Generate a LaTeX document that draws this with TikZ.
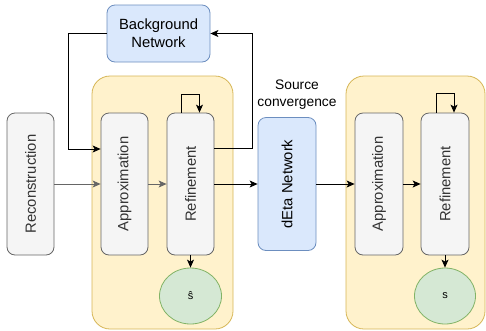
\documentclass[tikz,border=0pt]{standalone}
\usepackage{fontspec}
\setmainfont{Liberation Sans}
\usepackage{xcolor}
\usetikzlibrary{arrows.meta}
\usetikzlibrary{positioning,shapes.geometric}
\definecolor{stagefill}{HTML}{FFF2CC}
\definecolor{stageline}{HTML}{D6B656}
\definecolor{netfill}{HTML}{DAE8FC}
\definecolor{netline}{HTML}{6C8EBF}
\definecolor{stepfill}{HTML}{F5F5F5}
\definecolor{stepline}{HTML}{666666}
\definecolor{steptext}{HTML}{333333}
\definecolor{outfill}{HTML}{D5E8D4}
\definecolor{outline}{HTML}{82B366}
\tikzset{
    stage/.style={
        draw=stageline,
        fill=stagefill,
        rounded corners=18pt,
        line width=0.8pt,
        minimum width=141pt,
        minimum height=253pt
    },
    netbox/.style={
        draw=netline,
        fill=netfill,
        rounded corners=8pt,
        line width=0.8pt,
        align=center,
        font=\fontsize{14.8}{18}\selectfont
    },
    stepbox/.style={
        draw=stepline,
        fill=stepfill,
        text=steptext,
        rounded corners=8pt,
        line width=0.8pt,
        minimum width=47pt,
        minimum height=142pt,
        font=\fontsize{14.8}{18}\selectfont
    },
    outnode/.style={
        draw=outline,
        fill=outfill,
        ellipse,
        line width=0.8pt,
        minimum width=62pt,
        minimum height=56pt,
        font=\fontsize{11}{13}\selectfont
    },
    flow/.style={
        draw,
        -{Stealth[length=8pt, width=7pt, inset=2pt]},
        line width=0.8pt
    }
}

\begin{document}
\begin{tikzpicture}[x=1pt, y=-1pt]
    \useasboundingbox (0,0) rectangle (486,330);

    % Stage containers
    \node[stage] (stage1) at (162.5,202.5) {};
    \node[stage, minimum width=139pt] (stage2) at (415.5,202.5) {};

    % Networks
    \node[netbox, minimum width=103pt, minimum height=57pt] (bgnet) at (158.5,33.5) {Background\\Network};
    \node[netbox, minimum width=58pt, minimum height=133pt] (deta) at (287,184) {\rotatebox{90}{dEta Network}};
    \node[align=center, font=\fontsize{13.8}{17}\selectfont] (srcconv) at (297,94.5) {Source\\convergence};

    % Processing steps
    \node[stepbox] (recon) at (30.5,184) {\rotatebox{90}{Reconstruction}};
    \node[stepbox] (approx1) at (124.5,184) {\rotatebox{90}{Approximation}};
    \node[stepbox] (refine1) at (190.5,184) {\rotatebox{90}{Refinement}};
    \node[stepbox, minimum width=48pt] (approx2) at (379,184) {\rotatebox{90}{Approximation}};
    \node[stepbox, minimum width=48pt] (refine2) at (445,184) {\rotatebox{90}{Refinement}};

    % Outputs
    \node[outnode] (shat) at (190.5,296) {ŝ};
    \node[outnode, minimum width=61pt] (sout) at (445,296) {s};

    % Turning points of the feedback loop
    \coordinate (fbright) at (252,33.5);
    \coordinate (fbleft) at (68,33.5);

    % Main flow
    \draw[flow, stepline] (recon) -- (approx1);
    \draw[flow, stepline] (approx1) -- (refine1);
    \draw[flow] (refine1) -- (deta);
    \draw[flow] (deta) -- (approx2);
    \draw[flow] (approx2) -- (refine2);
    \draw[flow] (refine1) -- (shat);
    \draw[flow] (refine2) -- (sout);

    % Self loops on refinement
    \draw[flow] ([xshift=-9pt]refine1.north) -- ++(0,-18) -| ([xshift=9pt]refine1.north);
    \draw[flow] ([xshift=-9pt]refine2.north) -- ++(0,-19) -| ([xshift=9pt]refine2.north);

    % Background feedback
    \draw[flow] ([yshift=36pt]refine1.east) -| (fbright) -- (bgnet.east);
    \draw[flow] (bgnet.west) -- (fbleft) |- ([yshift=35pt]approx1.west);
\end{tikzpicture}
\end{document}
